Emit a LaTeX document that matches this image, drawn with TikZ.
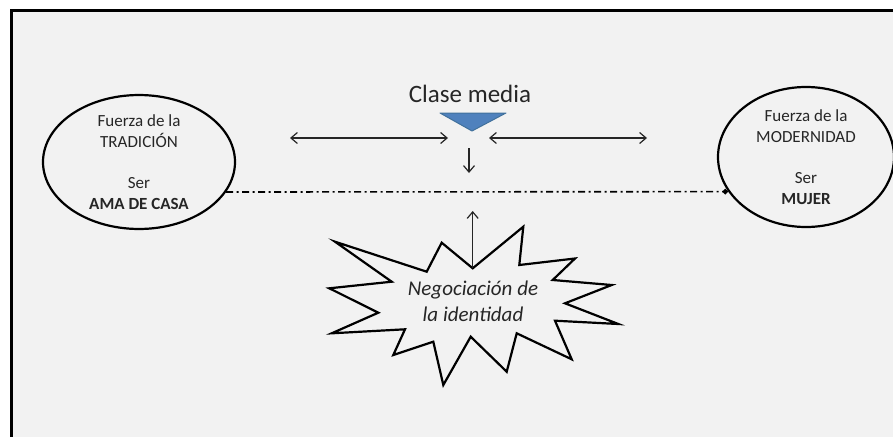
\documentclass[tikz,border=0pt]{standalone}
\usepackage{fontspec}
\setmainfont{Carlito}
\usetikzlibrary{arrows.meta,shapes.geometric}
\definecolor{bg}{HTML}{F2F2F2}
\definecolor{tri}{HTML}{4F81BD}
\definecolor{triedge}{HTML}{41719C}
\definecolor{ink}{HTML}{262626}
\begin{document}
\begin{tikzpicture}[x=1pt,y=-1pt,
  ell/.style={ellipse, draw=black, line width=2.2pt, align=center, inner sep=0pt,
    font=\fontsize{17}{20.7}\selectfont, text=ink},
  arr/.style={draw=ink, line width=1.2pt, arrows={Straight Barb[length=6.5pt,width=11pt]-Straight Barb[length=6.5pt,width=11pt]}},
  uparr/.style={draw=ink, line width=1.2pt, -{Straight Barb[length=6.5pt,width=11pt]}},
  dashdotline/.style={draw=black, line width=1.6pt, dash pattern=on 7pt off 3.5pt on 2pt off 3.5pt, -{Diamond[length=6pt,width=6pt]}},
  burst/.style={draw=black, line width=2.2pt, fill=bg, line join=miter}
]
\useasboundingbox (0,0) rectangle (893,436);
\fill[white] (0,0) rectangle (893,436);
\filldraw[fill=bg, draw=black, line width=2.5pt] (11.5,10.5) rectangle (910,450);

% ellipses
\node[ell, minimum width=192pt, minimum height=130pt] (trad) at (139,162)
  {Fuerza de la\\TRADICIÓN\\[20.7pt]Ser\\\textbf{AMA DE CASA}};
\node[ell, minimum width=176pt, minimum height=140pt] (mod) at (806,157)
  {Fuerza de la\\MODERNIDAD\\[20.7pt]Ser\\\textbf{MUJER}};

% dash-dot connector
\draw[dashdotline] (trad.-19) -- (mod.204);

% Clase media
\node[font=\fontsize{25}{30}\selectfont, text=ink] (clase) at (470,94) {Clase media};
\filldraw[fill=tri, draw=triedge, line width=1pt, line join=round] (440,113) -- (506,113) -- (472,131) -- cycle;

% arrows
\coordinate (la) at (290,138);
\coordinate (lb) at (448,138);
\coordinate (ra) at (489,138);
\coordinate (rb) at (647,138);
\coordinate (da) at (469,148);
\coordinate (db) at (469,173);
\draw[arr] (la) -- (lb);
\draw[arr] (ra) -- (rb);
\draw[uparr] (da) -- (db);

% starburst
\draw[burst] (335,241.7) -- (426.7,271.7) -- (441.7,242.7) -- (472.7,268.3)
  -- (523.3,226.7) -- (519.3,265) -- (575,258.5) -- (552.7,280)
  -- (611.7,285) -- (565,303.3) -- (618.3,324) -- (555,320.7)
  -- (571.7,359.3) -- (516.7,333.3) -- (506.7,371.7) -- (470.7,336.7)
  -- (443.3,385) -- (433.3,341.7) -- (393.3,355) -- (405,329.3)
  -- (331.7,333.3) -- (378.3,312.7) -- (329.3,288.3) -- (391.7,281.7) -- cycle;
\coordinate (bursttop) at (472.7,268.3);
\coordinate (uptip) at (472.7,211);
\draw[uparr] (bursttop) -- (uptip);
\node[align=center, font=\fontsize{21}{25.6}\selectfont\itshape, text=ink] (neg) at (473,301)
  {Negociación de\\la identidad};
\end{tikzpicture}
\end{document}
